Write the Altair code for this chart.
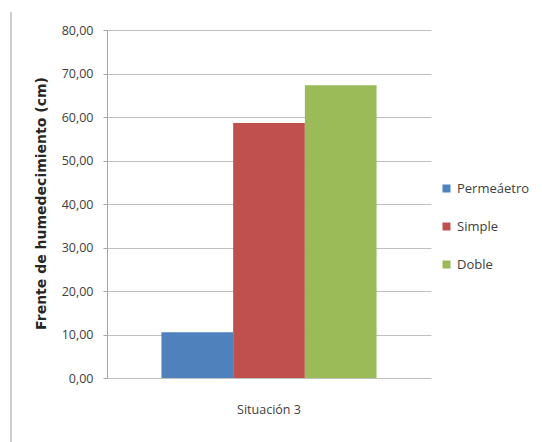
import altair as alt
import pandas as pd

# Wetting front per infiltrometer type, situation 3
situacion = ["Situación 3", "Situación 3", "Situación 3"]
series = ["Permeáetro", "Simple", "Doble"]
valores = [10.5, 58.6, 67.3]
colores = ["#4F81BD", "#C0504D", "#9BBB59"]
y_ticks = [0, 10, 20, 30, 40, 50, 60, 70, 80]

df = pd.DataFrame({"situacion": situacion, "serie": series, "valor": valores})

FONT = "Open Sans"

bars = alt.Chart(df).mark_bar(size=71.7).encode(
    x=alt.X(
        "situacion:N",
        scale=alt.Scale(paddingInner=0, paddingOuter=0.253),
        axis=alt.Axis(
            title=None, labelAngle=0, ticks=False, domain=False, grid=False,
            labelPadding=25, labelFontSize=12.5, labelFont=FONT, labelColor="#404040",
        ),
    ),
    xOffset=alt.XOffset("serie:N", sort=series, scale=alt.Scale(paddingInner=0, paddingOuter=0)),
    y=alt.Y(
        "valor:Q",
        scale=alt.Scale(domain=[0, 80]),
        axis=alt.Axis(
            values=y_ticks,
            labelExpr="replace(format(datum.value, '.2f'), '.', ',')",
            title="Frente de humedecimiento (cm)",
            titleFont="DejaVu Sans", titleFontSize=14, titleFontWeight="bold", titleColor="#262626",
            titleAngle=-90, titleX=-66, titleY=173, titleAlign="center", titleBaseline="middle",
            labelFont=FONT, labelFontSize=12.5, labelColor="#404040", labelPadding=10,
            tickSize=4, tickColor="#a6a6a6", domainColor="#a6a6a6",
            gridColor="#bfbfbf", gridWidth=1,
        ),
    ),
    color=alt.Color(
        "serie:N",
        sort=series,
        scale=alt.Scale(domain=series, range=colores),
        legend=alt.Legend(
            title=None, orient="none", legendX=333, legendY=152,
            symbolType="square", symbolSize=64, symbolStrokeWidth=0,
            labelFont=FONT, labelFontSize=13, labelColor="#404040",
            rowPadding=24, labelOffset=4,
        ),
    ),
)

# thin frame line on the left side of the chart area
frame = alt.Chart(df).mark_rule(color="#c8c8c8", strokeWidth=1).encode(
    x=alt.value(-96), y=alt.value(-18), y2=alt.value(412)
)

chart = alt.layer(bars, frame).properties(
    width=324,
    height=348,
    background="white",
    autosize=alt.AutoSizeParams(type="none"),
    padding={"left": 107, "top": 30, "right": 111, "bottom": 64},
).configure_view(stroke=None)

chart.save("out.html", embed_options={"renderer": "svg", "actions": False})
